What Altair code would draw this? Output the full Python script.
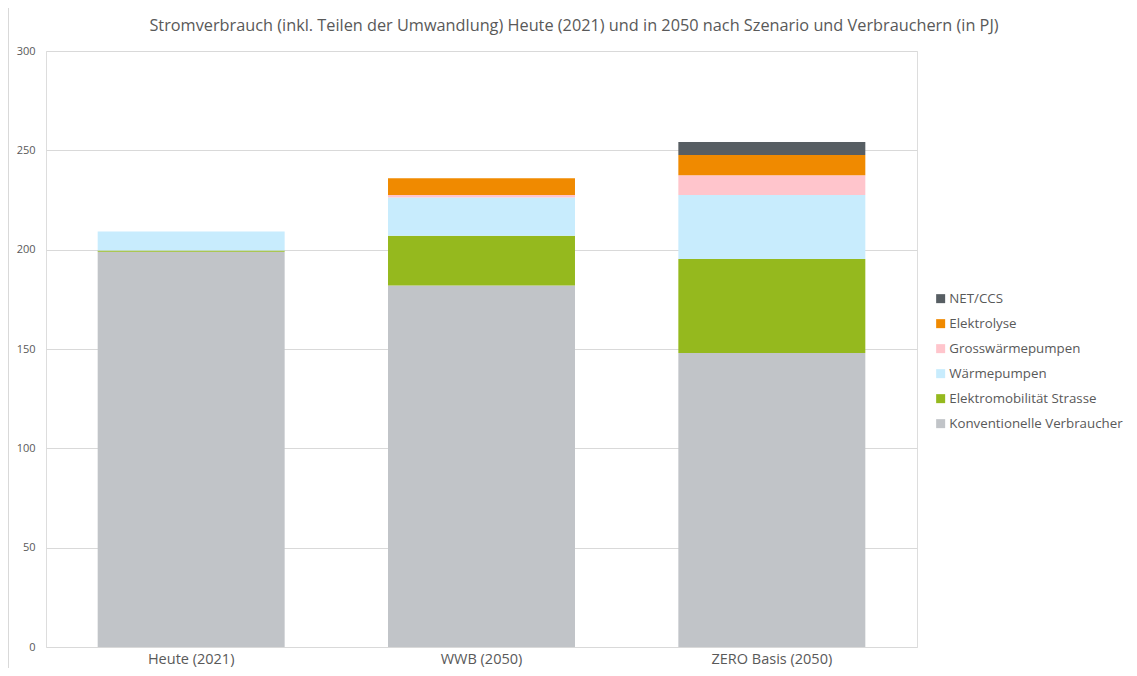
import altair as alt
import pandas as pd

title_text = ("Stromverbrauch (inkl. Teilen der Umwandlung) Heute (2021) und in 2050 "
              "nach Szenario und Verbrauchern  (in PJ)")
scenarios = ["Heute (2021)", "WWB (2050)", "ZERO Basis (2050)"]
categories = ["NET/CCS", "Elektrolyse", "Grosswärmepumpen", "Wärmepumpen",
              "Elektromobilität Strasse", "Konventionelle Verbraucher"]
colors = ["#575e63", "#f08a00", "#ffc5cc", "#c8ecfd", "#95b91e", "#c1c4c8"]

konventionell = [199.0, 182.0, 148.0]
emobilitaet = [0.6, 25.0, 47.3]
waermepumpen = [9.6, 19.2, 32.2]
grosswp = [0.0, 1.3, 10.0]
elektrolyse = [0.0, 8.5, 10.1]
netccs = [0.0, 0.0, 6.6]

series = {
    "Konventionelle Verbraucher": konventionell,
    "Elektromobilität Strasse": emobilitaet,
    "Wärmepumpen": waermepumpen,
    "Grosswärmepumpen": grosswp,
    "Elektrolyse": elektrolyse,
    "NET/CCS": netccs,
}

rows = []
for order, (cat, vals) in enumerate(series.items()):
    for sc, v in zip(scenarios, vals):
        rows.append({"Szenario": sc, "Kategorie": cat, "Wert": v, "ord": order})
df = pd.DataFrame(rows)

FONT = "Open Sans"
GRAY = "#595959"
W, H = 871, 596
PAD_L, PAD_T, PAD_B = 38, 43, 21

bars = alt.Chart(df).mark_bar().encode(
    x=alt.X("Szenario:N", sort=scenarios,
            scale=alt.Scale(paddingInner=0.356, paddingOuter=0.178),
            axis=alt.Axis(title=None, labelAngle=0, ticks=False, domain=False,
                          labelFont=FONT, labelFontSize=14.5,
                          labelColor=GRAY, labelPadding=5)),
    y=alt.Y("Wert:Q", stack="zero",
            scale=alt.Scale(domain=[0, 300], nice=False),
            axis=alt.Axis(title=None, values=[0, 50, 100, 150, 200, 250, 300],
                          ticks=False, domain=False, gridColor="#d9d9d9",
                          labelFont=FONT, labelFontSize=11, labelColor=GRAY,
                          labelPadding=11)),
    color=alt.Color("Kategorie:N",
                    scale=alt.Scale(domain=categories, range=colors),
                    legend=alt.Legend(title=None, orient="none", legendX=888, legendY=241,
                                      symbolType="square", symbolSize=81,
                                      symbolStrokeWidth=0, rowPadding=11,
                                      labelFont=FONT, labelFontSize=13.3,
                                      labelColor=GRAY, labelOffset=2, labelLimit=400)),
    order=alt.Order("ord:Q", sort="ascending"),
)

title = alt.Chart(pd.DataFrame({"t": [title_text]})).mark_text(
    font=FONT, fontSize=16.3, color=GRAY, align="center", baseline="middle"
).encode(text="t:N", x=alt.value(528), y=alt.value(-25))

border = alt.Chart(pd.DataFrame({"v": [0]})).mark_rule(color="#d9d9d9").encode(
    x=alt.value(-PAD_L + 0.5), y=alt.value(-PAD_T), y2=alt.value(H + PAD_B)
)

chart = alt.layer(bars, title, border).properties(
    width=W, height=H,
    autosize=alt.AutoSizeParams(type="none"),
    padding={"left": PAD_L, "top": PAD_T, "right": 1121 - PAD_L - W, "bottom": PAD_B},
).configure_view(strokeWidth=0).configure(background="white")

chart.save("out.html", embed_options={"renderer": "svg", "actions": False})
